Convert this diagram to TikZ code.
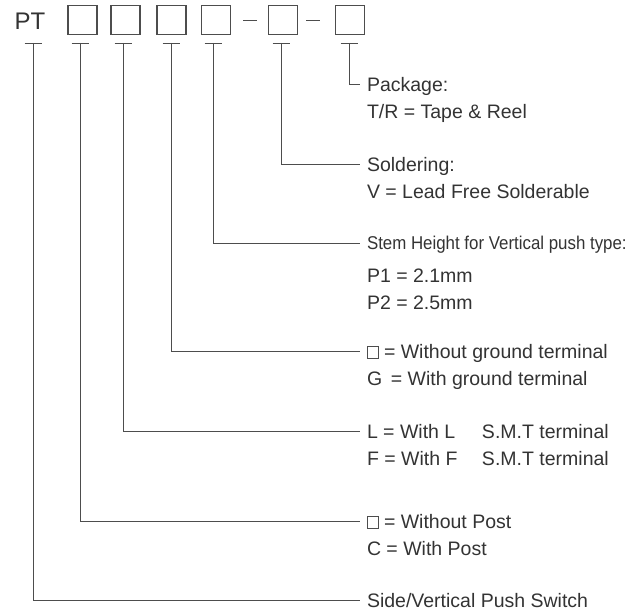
\documentclass[tikz,border=0pt]{standalone}
\usepackage{fontspec}
\setmainfont{Liberation Sans}
\usepackage{graphicx}
\definecolor{ink}{HTML}{333333}
\definecolor{rule}{HTML}{4D4D4D}
\newcommand{\blankbox}{{\color{rule}\setlength{\fboxsep}{0pt}\setlength{\fboxrule}{0.8pt}\fbox{\rule{0pt}{11.5pt}\hspace{10pt}}}}
\begin{document}
\begin{tikzpicture}[x=1pt, y=-1pt,
  every node/.style={text=ink},
  slot/.style={draw=rule, line width=1.1pt, minimum size=29pt, inner sep=0pt},
  lbl/.style={anchor=west, inner sep=0pt, outer xsep=7pt, font=\fontsize{19.5}{22}\selectfont, text height=14pt, text depth=0pt},
  wire/.style={draw=rule, line width=0.9pt}]
  \useasboundingbox (0,0) rectangle (637,610);
  % part number
  \node[anchor=base, inner sep=0pt, font=\fontsize{24}{26}\selectfont] (pt) at (30,30) {PT};
  \node[slot] (s1) at (82.5,20) {}; \node[slot] (s2) at (125.5,20) {};
  \node[slot] (s3) at (171.5,20) {}; \node[slot] (s4) at (216,20) {};
  \node[slot] (s5) at (283,20) {}; \node[slot] (s6) at (350,20) {};
  \draw[wire] (243,20) -- (257,20); \draw[wire] (306,20) -- (320,20);
  % tee marks under each field
  \coordinate (t0) at (33,43); \coordinate (t1) at (80,43); \coordinate (t2) at (123,43);
  \coordinate (t3) at (171,43); \coordinate (t4) at (213,43); \coordinate (t5) at (281,43);
  \coordinate (t6) at (349,43);
  \foreach \t in {t0,t1,t2,t3,t4,t5,t6}
    \draw[wire] ([xshift=-8.5pt]\t) -- ([xshift=8.5pt]\t);
  % legend
  \node[lbl] (pkg) at (360,84) {Package:};
  \node[lbl] (pkg2) at (360,111) {T/R = Tape \& Reel};
  \node[lbl] (sol) at (360,164) {Soldering:};
  \node[lbl] (sol2) at (360,191) {V = Lead Free Solderable};
  \node[lbl, text height=13pt] (stem) at (360,243) {\scalebox{0.865}[0.95]{Stem Height for Vertical push type:}};
  \node[lbl] (stem2) at (360,275) {P1 = 2.1mm};
  \node[lbl] (stem3) at (360,302) {P2 = 2.5mm};
  \node[lbl] (gnd) at (360,351) {\blankbox\ = Without ground terminal};
  \node[lbl] (gnd2) at (360,378) {G\, = With ground terminal};
  \node[lbl] (smt) at (360,431) {\makebox[115pt][l]{L = With L}S.M.T terminal};
  \node[lbl] (smt2) at (360,458) {\makebox[115pt][l]{F = With F}S.M.T terminal};
  \node[lbl] (post) at (360,521) {\blankbox\ = Without Post};
  \node[lbl] (post2) at (360,548) {C = With Post};
  \node[lbl] (side) at (360,600) {Side/Vertical Push Switch};
  % connectors
  \draw[wire] (t6) |- (pkg.west);
  \draw[wire] (t5) |- (sol.west);
  \draw[wire] (t4) |- (stem.west);
  \draw[wire] (t3) |- (gnd.west);
  \draw[wire] (t2) |- (smt.west);
  \draw[wire] (t1) |- (post.west);
  \draw[wire] (t0) |- (side.west);
\end{tikzpicture}
\end{document}
